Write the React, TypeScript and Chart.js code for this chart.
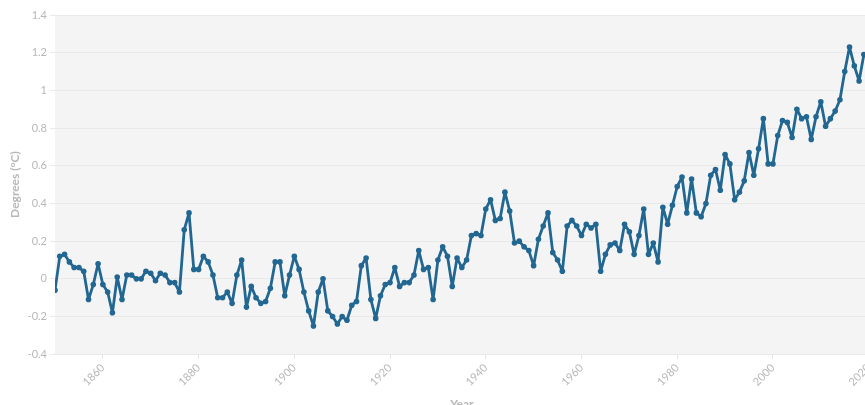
import React, { useEffect, useRef } from 'react';
import { Chart, registerables } from 'chart.js';

Chart.register(...registerables);

const startYear = 1850;

const anomalies1850s = [
  -0.06, 0.12, 0.13, 0.09, 0.06, 0.06, 0.04, -0.11, -0.03, 0.08,
  -0.03, -0.07, -0.18, 0.01, -0.11, 0.02, 0.02, 0.0, 0.0, 0.04,
  0.03, -0.01, 0.03, 0.02, -0.02, -0.02, -0.07, 0.26, 0.35, 0.05,
  0.05, 0.12, 0.09, 0.02, -0.1, -0.1, -0.07, -0.13, 0.02, 0.1,
  -0.15, -0.04, -0.1, -0.13, -0.12, -0.05, 0.09, 0.09, -0.09, 0.02,
];
const anomalies1900s = [
  0.12, 0.05, -0.07, -0.17, -0.25, -0.07, 0.0, -0.17, -0.2, -0.24,
  -0.2, -0.22, -0.14, -0.12, 0.07, 0.11, -0.11, -0.21, -0.09, -0.03,
  -0.02, 0.06, -0.04, -0.02, -0.02, 0.02, 0.15, 0.05, 0.06, -0.11,
  0.1, 0.17, 0.12, -0.04, 0.11, 0.06, 0.1, 0.23, 0.24, 0.23,
  0.37, 0.42, 0.31, 0.32, 0.46, 0.36, 0.19, 0.2, 0.17, 0.15,
];
const anomalies1950s = [
  0.07, 0.21, 0.28, 0.35, 0.14, 0.1, 0.04, 0.28, 0.31, 0.28,
  0.23, 0.29, 0.27, 0.29, 0.04, 0.13, 0.18, 0.19, 0.15, 0.29,
  0.25, 0.13, 0.23, 0.37, 0.13, 0.19, 0.09, 0.38, 0.29, 0.39,
  0.49, 0.54, 0.35, 0.53, 0.35, 0.33, 0.4, 0.55, 0.58, 0.47,
  0.66, 0.61, 0.42, 0.46, 0.52, 0.67, 0.55, 0.69, 0.85, 0.61,
];
const anomalies2000s = [
  0.61, 0.76, 0.84, 0.83, 0.75, 0.9, 0.85, 0.86, 0.74, 0.86,
  0.94, 0.81, 0.85, 0.89, 0.95, 1.1, 1.23, 1.13, 1.05, 1.19,
  1.21,
];

const anomalies = [...anomalies1850s, ...anomalies1900s, ...anomalies1950s, ...anomalies2000s];
const years = anomalies.map((_, i) => startYear + i);

const xTickValues = [1860, 1880, 1900, 1920, 1940, 1960, 1980, 2000, 2020];
const yMin = -0.4;
const yMax = 1.4;
const yStep = 0.2;

const FONT = 'Lato, "Noto Sans", sans-serif';
const TEXT = '#b8b8b8';

const plotBg = {
  id: 'plotBg',
  beforeDraw(chart: any) {
    const { ctx, chartArea } = chart;
    if (!chartArea) return;
    ctx.save();
    ctx.fillStyle = '#f4f4f4';
    ctx.fillRect(chartArea.left, chartArea.top, chartArea.right - chartArea.left, chartArea.bottom - chartArea.top);
    ctx.restore();
  },
};

const fmtY = (v: any) => {
  const n = Number(Number(v).toFixed(1));
  return String(n === 0 ? 0 : n);
};

export default function App() {
  const ref = useRef<HTMLCanvasElement | null>(null);

  useEffect(() => {
    if (!ref.current) return;
    const chart = new Chart(ref.current, {
      type: 'line',
      data: {
        datasets: [
          {
            data: years.map((y, i) => ({ x: y, y: anomalies[i] })),
            borderColor: '#216791',
            backgroundColor: '#216791',
            borderWidth: 2.8,
            borderJoinStyle: 'round',
            borderCapStyle: 'round',
            pointRadius: 2.8,
            pointBorderWidth: 0,
            tension: 0,
          },
        ],
      },
      options: {
        animation: false,
        responsive: false,
        layout: { padding: { top: 15, right: 0, left: 0, bottom: 0 } },
        plugins: { legend: { display: false }, tooltip: { enabled: false } },
        scales: {
          x: {
            type: 'linear',
            min: 1850,
            max: 2020,
            afterBuildTicks: (s: any) => {
              s.ticks = xTickValues.map((v) => ({ value: v }));
            },
            ticks: {
              color: TEXT,
              font: { family: FONT, size: 11 },
              minRotation: 45,
              maxRotation: 45,
              padding: 2,
              autoSkip: false,
              callback: (v: any) => String(v),
            },
            grid: { drawOnChartArea: false, tickLength: 5, color: '#e3e3e3' },
            border: { display: false },
            title: {
              display: true,
              text: 'Year',
              color: TEXT,
              font: { family: FONT, size: 12, weight: 'bold' },
              padding: { top: 6, bottom: 0 },
            },
          },
          y: {
            min: yMin,
            max: yMax,
            afterFit: (s: any) => {
              s.width = 55;
            },
            ticks: {
              stepSize: yStep,
              color: TEXT,
              font: { family: FONT, size: 11 },
              padding: 3,
              callback: fmtY,
            },
            grid: { color: '#e9e9e9', tickLength: 5 },
            border: { display: false },
            title: {
              display: true,
              text: 'Degrees (°C)',
              color: TEXT,
              font: { family: FONT, size: 12, weight: 'bold' },
              padding: { top: 8, bottom: 4 },
            },
          },
        },
      },
      plugins: [plotBg],
    });
    return () => chart.destroy();
  }, []);

  return (
    <div style={{ position: 'fixed', left: 0, top: 0, width: 865, height: 405, overflow: 'hidden', background: '#fff' }}>
      <canvas ref={ref} width={880} height={411} style={{ width: 880, height: 411, display: 'block' }} />
    </div>
  );
}
